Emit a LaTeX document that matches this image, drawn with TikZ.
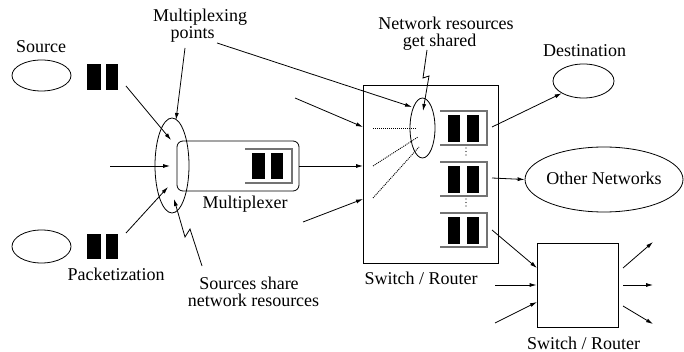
\documentclass[tikz,border=0pt]{standalone}
\usepackage{fontspec}
\setmainfont{LiberationSerif}[Extension=.ttf, UprightFont=*-Regular, BoldFont=*-Bold]
\usetikzlibrary{arrows.meta,shapes.geometric}
\tikzset{
  lbl/.style={inner sep=0pt, anchor=base, font=\fontsize{18}{17}\selectfont},
  ell/.style={draw, ellipse, inner sep=0pt, line width=0.8pt},
  box/.style={draw, rectangle, inner sep=0pt, line width=0.8pt},
  ln/.style={line width=0.8pt},
  arr/.style={line width=0.8pt, -{Latex[length=7pt,width=4pt]}},
  dots/.style={line width=0.9pt, dash pattern=on 1pt off 1pt},
  qframe/.style={draw=black!55, line width=1.6pt},
  pkt/.style={fill=black}
}
\begin{document}
\begin{tikzpicture}[x=1pt,y=-1pt]
\useasboundingbox (0,0) rectangle (684,352);

% ---------- left side ----------
\node[lbl] (srclab) at (41,53) {Source};
\node[ell, minimum width=59pt, minimum height=31pt] (src1) at (41.5,75.5) {};
\node[ell, minimum width=59pt, minimum height=33pt] (src2) at (41.5,246.5) {};
\fill[pkt] (87,64) rectangle (101,90);
\fill[pkt] (106,64) rectangle (118,90);
\fill[pkt] (87,234) rectangle (101,259);
\fill[pkt] (106,234) rectangle (118,259);
\node[lbl] (packlab) at (116,280) {Packetization};

% multiplexing point ellipse and multiplexer
\node[ell, minimum width=34pt, minimum height=95pt] (mpe) at (172,165.5) {};
\node[draw, rectangle, rounded corners=6pt, line width=0.8pt, minimum width=122pt, minimum height=50pt, inner sep=0pt] (mux) at (238,166) {};
\draw[qframe] (245,149) -- (292,149) -- (292,183) -- (245,183);
\fill[pkt] (252,153) rectangle (265,179);
\fill[pkt] (271,153) rectangle (283,179);
\node[lbl] (muxlab) at (245,209) {Multiplexer};

\node[lbl] (mplabA) at (200,22) {Multiplexing};
\node[lbl] (mplabB) at (192.5,39) {points};
\node[lbl] (sslabA) at (249,289) {Sources share};
\node[lbl] (sslabB) at (253.5,306) {network resources};

\coordinate (a1s) at (126,86);   \coordinate (a1e) at (171,140);
\coordinate (a2s) at (110,166);  \coordinate (a2e) at (170,166);
\coordinate (a3s) at (126,233);  \coordinate (a3e) at (168,187);
\draw[arr] (a1s) -- (a1e);
\draw[arr] (a2s) -- (a2e);
\draw[arr] (a3s) -- (a3e);

\coordinate (p1) at (185,48);  \coordinate (p1e) at (176,120);
\draw[arr] (p1) -- (p1e);
\coordinate (p2) at (217,43);  \coordinate (p2e) at (412,107);
\draw[arr] (p2) -- (p2e);

\coordinate (ss0) at (202,266); \coordinate (ss1) at (190,229);
\coordinate (ss2) at (185,237); \coordinate (sse) at (174,199);
\draw[arr] (ss0) -- (ss1) -- (ss2) -- (sse);

% ---------- first switch ----------
\node[box, minimum width=135pt, minimum height=178pt] (sw) at (430.5,174) {};
\node[lbl] (swlab) at (421,284) {Switch / Router};
\node[ell, minimum width=25pt, minimum height=60pt] (swe) at (422.5,128) {};

\node[lbl] (nrlabA) at (446,30) {Network resources};
\node[lbl] (nrlabB) at (439.5,47) {get shared};
\coordinate (g0) at (427,50); \coordinate (g1) at (423,78);
\coordinate (g2) at (429,76); \coordinate (ge) at (423,111);
\draw[arr] (g0) -- (g1) -- (g2) -- (ge);

\coordinate (i1s) at (295,98);  \coordinate (i1e) at (363,127);
\coordinate (i2e) at (363,166);
\coordinate (i3s) at (303,222); \coordinate (i3e) at (363,199);
\draw[arr] (i1s) -- (i1e);
\draw[arr] (mux.east) -- (i2e);
\draw[arr] (i3s) -- (i3e);

\draw[dots] (373,128) -- (417,128);
\draw[dots] (373,166) -- (418,137);
\draw[dots] (373,198) -- (419,147);

% queues
\foreach \t in {111,162,213}{
  \draw[qframe] (440,\t) -- (487,\t) -- (487,\t+34) -- (440,\t+34);
  \fill[pkt] (448,\t+4) rectangle (460,\t+31);
  \fill[pkt] (467,\t+4) rectangle (479,\t+31);
}
\foreach \y in {148,151.5,155,199,202.5,206}{
  \fill (466,\y) circle (0.6pt);
}

% ---------- right side ----------
\node[lbl] (destlab) at (584.5,57) {Destination};
\node[ell, minimum width=61pt, minimum height=34pt] (dest) at (583.5,81) {};
\node[ell, minimum width=158pt, minimum height=65pt] (other) at (604,179.5) {};
\node[lbl] (otherlab) at (604,185) {Other Networks};

\coordinate (o1s) at (492,127);
\coordinate (o2s) at (492,178);
\coordinate (o3s) at (492,230);
\draw[arr] (o1s) -- (dest.south west);
\draw[arr] (o2s) -- (other.west);

\node[box, minimum width=81pt, minimum height=84pt] (sw2) at (577.5,285) {};
\node[lbl] (sw2lab) at (583.5,349) {Switch / Router};
\coordinate (q1e) at (537,268);
\coordinate (q2s) at (495,285);
\coordinate (q3s) at (495,323); \coordinate (q3e) at (537,302);
\draw[arr] (o3s) -- (q1e);
\draw[arr] (q2s) -- (sw2.west);
\draw[arr] (q3s) -- (q3e);

\coordinate (r1s) at (623,268); \coordinate (r1e) at (653,242);
\coordinate (r2s) at (623,285); \coordinate (r2e) at (653,285);
\coordinate (r3s) at (623,306); \coordinate (r3e) at (653,324);
\draw[arr] (r1s) -- (r1e);
\draw[arr] (r2s) -- (r2e);
\draw[arr] (r3s) -- (r3e);
\end{tikzpicture}
\end{document}
